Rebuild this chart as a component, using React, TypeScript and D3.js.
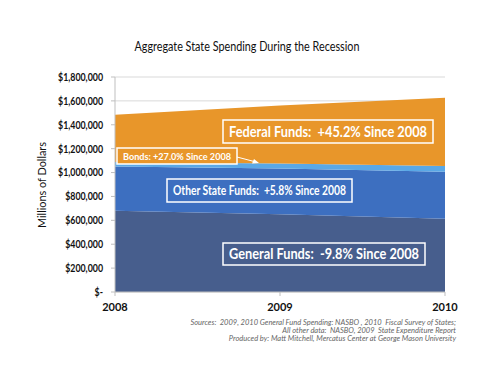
import React, { useEffect, useRef } from 'react';
import * as d3 from 'd3';

// values in millions of dollars
const years = [2008, 2009, 2010];
const generalFunds = [680000, 650000, 614000];
const otherStateFunds = [371000, 383000, 393000];
const bonds = [38000, 43000, 48000];
const federalFunds = [394000, 486000, 572000];
const yTicks = [0, 200000, 400000, 600000, 800000, 1000000, 1200000, 1400000, 1600000, 1800000];
const seriesKeys = ['general', 'other', 'bonds', 'federal'];
const seriesColors = ['#475e8d', '#3d6fc0', '#5aa8e6', '#e8962a'];
const sourceLines = [
  'Sources:  2009, 2010 General Fund Spending: NASBO , 2010  Fiscal Survey of States;',
  'All other data:  NASBO, 2009  State Expenditure Report',
  'Produced by: Matt Mitchell, Mercatus Center at George Mason University',
];

const FONT = 'Lato, "Open Sans", sans-serif';

function App() {
  const ref = useRef<SVGGElement>(null);
  const margin = { top: 77, left: 115 };
  const width = 330;
  const height = 215;

  useEffect(() => {
    const g = d3.select(ref.current);
    g.selectAll('*').remove();

    const table = years.map((yr, i) => ({
      year: yr,
      general: generalFunds[i],
      other: otherStateFunds[i],
      bonds: bonds[i],
      federal: federalFunds[i],
    }));

    const x = d3.scaleLinear().domain(d3.extent(years) as [number, number]).range([0, width]);
    const y = d3.scaleLinear().domain([0, 1800000]).range([height, 0]);

    // grid
    g.append('g')
      .selectAll('line')
      .data(yTicks)
      .join('line')
      .attr('x1', 0)
      .attr('x2', width)
      .attr('y1', d => y(d))
      .attr('y2', d => y(d))
      .attr('stroke', '#d9d9d9')
      .attr('stroke-width', 1);

    const stack = d3.stack<any>().keys(seriesKeys)(table);
    const area = d3.area<any>()
      .x(d => x(d.data.year))
      .y0(d => y(d[0]))
      .y1(d => y(d[1]));

    g.selectAll('path.area')
      .data(stack)
      .join('path')
      .attr('class', 'area')
      .attr('fill', (d, i) => seriesColors[i])
      .attr('d', area as any);

    // axes
    g.append('line')
      .attr('x1', 0).attr('x2', 0).attr('y1', 0).attr('y2', height)
      .attr('stroke', '#bfbfbf');
    g.append('line')
      .attr('x1', 0).attr('x2', width).attr('y1', height).attr('y2', height)
      .attr('stroke', '#bfbfbf');

    g.append('g')
      .selectAll('line')
      .data(yTicks)
      .join('line')
      .attr('x1', -4).attr('x2', 0)
      .attr('y1', d => y(d)).attr('y2', d => y(d))
      .attr('stroke', '#bfbfbf');

    g.append('g')
      .selectAll('text')
      .data(yTicks)
      .join('text')
      .attr('x', -12)
      .attr('y', d => y(d))
      .attr('dy', '0.35em')
      .attr('text-anchor', 'end')
      .attr('font-family', FONT)
      .attr('font-size', 11)
      .attr('font-weight', 'bold')
      .attr('fill', '#111')
      .text(d => (d === 0 ? '$-' : d3.format('$,')(d)))
      .each(function () {
        // squeeze to the narrow width of the original face
        const t = this as SVGTextElement;
        const w = t.getComputedTextLength();
        t.setAttribute('textLength', String(w * 0.8));
        t.setAttribute('lengthAdjust', 'spacingAndGlyphs');
      });

    g.append('g')
      .selectAll('line')
      .data(years)
      .join('line')
      .attr('x1', d => x(d)).attr('x2', d => x(d))
      .attr('y1', height).attr('y2', height + 4)
      .attr('stroke', '#bfbfbf');

    g.append('g')
      .selectAll('text')
      .data(years)
      .join('text')
      .attr('x', d => x(d))
      .attr('y', height + 19)
      .attr('text-anchor', 'middle')
      .attr('font-family', FONT)
      .attr('font-size', 11)
      .attr('font-weight', 'bold')
      .attr('fill', '#111')
      .text(d => d);

    // labelled boxes
    const boxes = [
      { x: 108, y: 43, w: 210, h: 23, fill: seriesColors[3], size: 15, text: 'Federal Funds:  +45.2% Since 2008' },
      { x: 2, y: 71, w: 120, h: 16, fill: seriesColors[3], size: 10, text: 'Bonds: +27.0% Since 2008' },
      { x: 52, y: 102, w: 185, h: 23, fill: seriesColors[1], size: 12.5, text: 'Other State Funds:  +5.8% Since 2008' },
      { x: 108, y: 166, w: 202, h: 22, fill: seriesColors[0], size: 15, text: 'General Funds:  -9.8% Since 2008' },
    ];
    const bg = g.append('g').selectAll('g').data(boxes).join('g');
    bg.append('rect')
      .attr('x', d => d.x).attr('y', d => d.y)
      .attr('width', d => d.w).attr('height', d => d.h)
      .attr('fill', d => d.fill)
      .attr('stroke', '#ffffff')
      .attr('stroke-width', 1.5);
    bg.append('text')
      .attr('x', d => d.x + d.w / 2)
      .attr('y', d => d.y + d.h / 2)
      .attr('dy', '0.36em')
      .attr('text-anchor', 'middle')
      .attr('font-family', FONT)
      .attr('font-size', d => d.size)
      .attr('font-weight', 'bold')
      .attr('fill', '#ffffff')
      .attr('xml:space', 'preserve')
      .attr('textLength', d => d.w - 12)
      .attr('lengthAdjust', 'spacingAndGlyphs')
      .text(d => d.text);

    // arrow from bonds box to bonds band
    g.append('line')
      .attr('x1', 122).attr('y1', 80)
      .attr('x2', 141).attr('y2', 85)
      .attr('stroke', '#fff').attr('stroke-width', 1);
    g.append('path')
      .attr('d', 'M144,86 L137,86.5 L139,82 Z')
      .attr('fill', '#fff');
  }, []);

  return (
    <svg width={500} height={386} style={{ display: 'block', position: 'absolute', left: 0, top: 0, background: '#fff', whiteSpace: 'pre' }}>
      <text x={247} y={51} textAnchor="middle" fontFamily={FONT} fontSize={12.5} fill="#111" textLength={225} lengthAdjust="spacingAndGlyphs">
        Aggregate State Spending During the Recession
      </text>
      <text
        transform="translate(46,185) rotate(-90)"
        textAnchor="middle"
        fontFamily={FONT}
        fontSize={11}
        fill="#111"
        textLength={86}
        lengthAdjust="spacingAndGlyphs"
      >
        Millions of Dollars
      </text>
      <g ref={ref} transform={`translate(${margin.left},${margin.top})`} />
      {sourceLines.map((s, i) => (
        <text
          key={i}
          x={456}
          y={325 + i * 8}
          textAnchor="end"
          fontFamily={FONT}
          fontSize={7.5}
          fontStyle="italic"
          fill="#666"
          xmlSpace="preserve"
        >
          {s}
        </text>
      ))}
    </svg>
  );
}

export default App;
